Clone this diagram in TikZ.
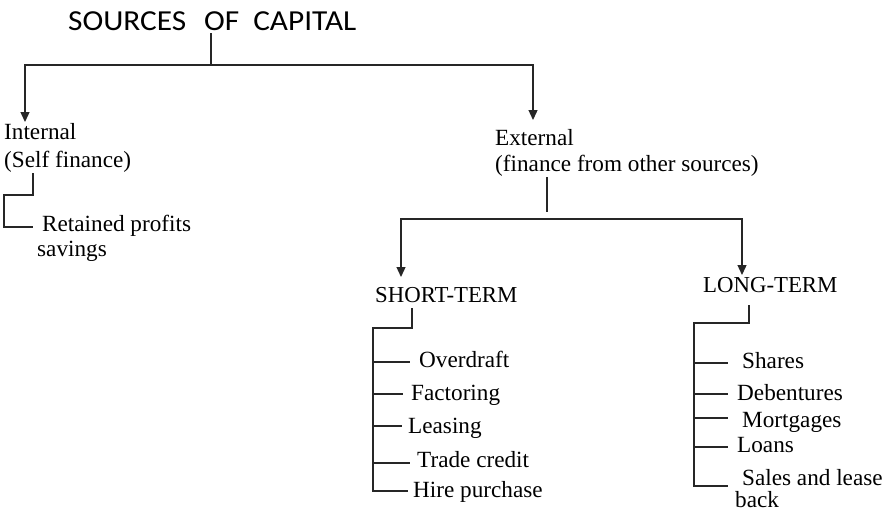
\documentclass[tikz,border=0pt]{standalone}
\usepackage{fontspec}
\setmainfont{Liberation Serif}
\newfontfamily\titlefont{Carlito}[FakeStretch=1.08]
\usetikzlibrary{arrows.meta}
\begin{document}
\begin{tikzpicture}[x=1pt,y=-1pt,
  txt/.style={anchor=base west,inner sep=0pt,font=\fontsize{23.2}{27}\selectfont},
  head/.style={anchor=base west,inner sep=0pt,font=\fontsize{22.8}{27}\selectfont},
  ttl/.style={anchor=base west,inner sep=0pt,font=\titlefont\fontsize{29}{32}\selectfont},
  ln/.style={line width=1.3pt,draw=black!85},
  arr/.style={ln,-{Triangle[length=10pt,width=9pt]}}]
\useasboundingbox (0,0) rectangle (890,512);
% title
\node[ttl] (title) at (68,30) {SOURCES\hspace{18pt}OF\hspace{14pt}CAPITAL};
% level 1
\node[txt] (int1) at (4,139) {Internal};
\node[txt] (int2) at (4,167) {(Self finance)};
\node[txt] (ext1) at (495,145) {External};
\node[txt] (ext2) at (495,171) {(finance from other sources)};
\node[txt] (ret1) at (42,231) {Retained profits};
\node[txt] (ret2) at (37,256) {savings};
% level 2
\node[head] (short) at (375,302) {SHORT-TERM};
\node[head] (long) at (703,292) {LONG-TERM};
% short-term items
\node[txt] (s1) at (419,367) {Overdraft};
\node[txt] (s2) at (411,400) {Factoring};
\node[txt] (s3) at (408,433) {Leasing};
\node[txt] (s4) at (417,467) {Trade credit};
\node[txt] (s5) at (413,497) {Hire purchase};
% long-term items
\node[txt] (l1) at (742,368) {Shares};
\node[txt] (l2) at (737,400) {Debentures};
\node[txt] (l3) at (742,427) {Mortgages};
\node[txt] (l4) at (737,452) {Loans};
\node[txt] (l5) at (742,485) {Sales and lease};
\node[txt] (l6) at (735,507) {back};
% connectors: title
\coordinate (j0) at (211,65);
\draw[ln] (211,33) -- (j0);
\draw[arr] (j0) -| (25,122);
\draw[arr] (j0) -| (533,120);
% internal
\draw[ln] (33,173) |- (4,195) -- (4,227) -- (33,227);
% external
\draw[ln] (547,177) -- (547,212);
\coordinate (j1) at (547,219);
\draw[arr] (j1) -| (401,277);
\draw[arr] (j1) -| (742,275);
% short-term tree
\draw[ln] (412,308) |- (373,328) -- (373,491) -- (408,491);
\draw[ln] (373,362) -- (410,362);
\draw[ln] (373,394) -- (403,394);
\draw[ln] (373,426) -- (402,426);
\draw[ln] (373,463) -- (410,463);
% long-term tree
\draw[ln] (749,305) |- (694,323) -- (694,486) -- (728,486);
\draw[ln] (694,363) -- (728,363);
\draw[ln] (694,394) -- (728,394);
\draw[ln] (694,418) -- (728,418);
\draw[ln] (694,447) -- (728,447);
\end{tikzpicture}
\end{document}
